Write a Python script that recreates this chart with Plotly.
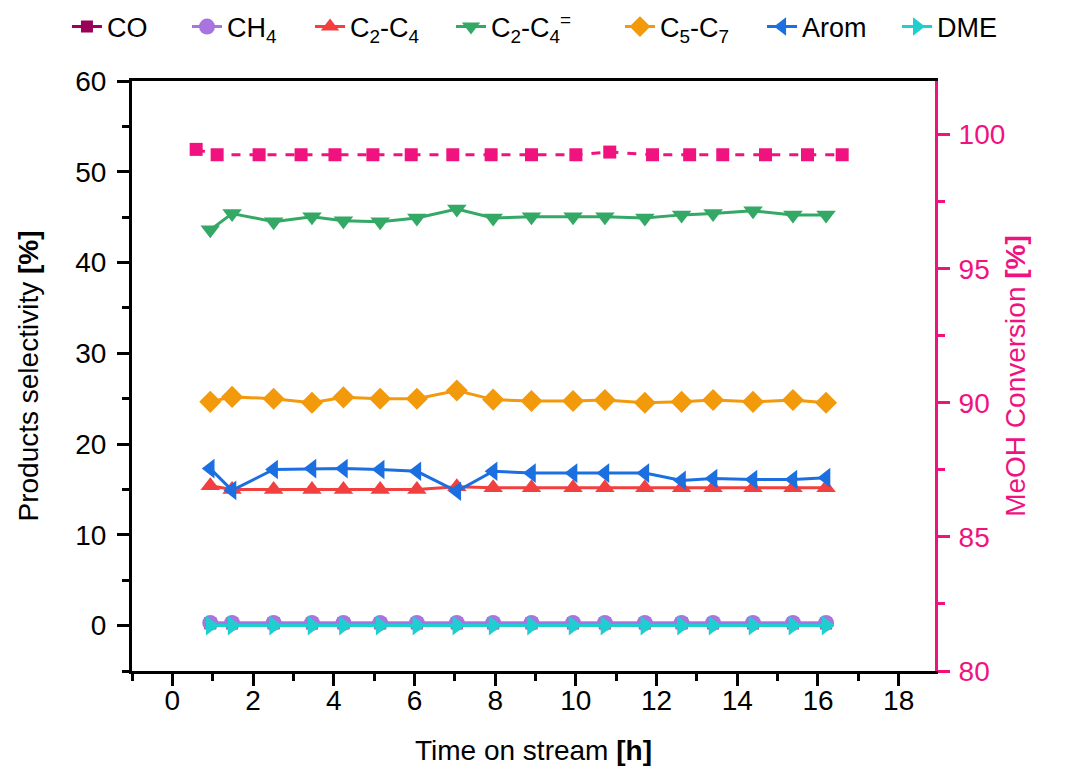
import plotly.graph_objects as go

# Time on stream [h]
t_conv = [0.59, 1.11, 2.15, 3.19, 4.03, 4.97, 5.92, 6.95, 7.9, 8.9, 10.0, 10.84, 11.9, 12.82, 13.64, 14.7, 15.74, 16.6]
t_sel = [0.94, 1.48, 2.51, 3.46, 4.24, 5.15, 6.06, 7.05, 7.95, 8.9, 9.93, 10.72, 11.71, 12.62, 13.4, 14.39, 15.38, 16.2]

# MeOH conversion [%]
conversion = [99.45, 99.25, 99.25, 99.25, 99.25, 99.25, 99.25, 99.25, 99.25, 99.25, 99.25, 99.35, 99.25, 99.25, 99.25, 99.25, 99.25, 99.25]

# Product selectivities [%]
co = [0.25] * 18
ch4 = [0.3] * 18
c2c4 = [15.4, 15.0, 15.0, 15.0, 15.0, 15.0, 15.0, 15.3, 15.2, 15.2, 15.2, 15.2, 15.2, 15.2, 15.2, 15.2, 15.2, 15.2]
c2c4_ole = [43.6, 45.4, 44.5, 45.05, 44.6, 44.5, 44.9, 45.9, 44.9, 45.05, 45.05, 45.05, 44.9, 45.25, 45.4, 45.7, 45.25, 45.25]
c5c7 = [24.65, 25.2, 25.0, 24.55, 25.15, 25.0, 25.0, 25.9, 24.9, 24.75, 24.75, 24.85, 24.55, 24.65, 24.85, 24.65, 24.85, 24.55]
arom = [17.3, 14.9, 17.2, 17.3, 17.3, 17.2, 17.0, 14.8, 17.0, 16.8, 16.8, 16.8, 16.8, 16.0, 16.2, 16.1, 16.1, 16.3]
dme = [0.0] * 18

x_ticks = [0, 2, 4, 6, 8, 10, 12, 14, 16, 18]

FONT = "Arial, Liberation Sans, sans-serif"
PINK = "#F0137F"

series = [
    ("CO", co, "#9B0058", "square", 12),
    ("CH<sub>4</sub>", ch4, "#A874E0", "circle", 16),
    ("C<sub>2</sub>-C<sub>4</sub>", c2c4, "#F24040", "triangle-up", 17),
    ("C<sub>2</sub>-C<sub>4</sub><sup>=</sup>", c2c4_ole, "#34A865", "triangle-down", 17),
    ("C<sub>5</sub>-C<sub>7</sub>", c5c7, "#F29A0C", "diamond", 17),
    ("Arom", arom, "#1B6FE0", "triangle-left", 17),
    ("DME", dme, "#1ECFCF", "triangle-right", 17),
]
# legend entry positions (paper x of each entry)
legend_x = [-0.081, 0.0685, 0.2217, 0.3973, 0.6077, 0.7846, 0.9527]

fig = go.Figure()

fig.add_trace(go.Scatter(
    x=t_conv, y=conversion, yaxis="y2", mode="lines+markers",
    line=dict(color=PINK, width=3, dash="dash"),
    marker=dict(symbol="square", size=13, color=PINK),
    showlegend=False, name="MeOH Conversion",
))

legends = {}
for i, (name, vals, color, sym, msize) in enumerate(series):
    lg = "legend" if i == 0 else f"legend{i + 1}"
    fig.add_trace(go.Scatter(
        x=t_sel, y=vals, mode="lines+markers", name=name, legend=lg,
        line=dict(color=color, width=3),
        marker=dict(symbol=sym, size=msize, color=color),
    ))
    legends[lg] = dict(orientation="h", x=legend_x[i], xanchor="left",
                       y=1.0915, yanchor="middle", font=dict(size=27),
                       bgcolor="rgba(0,0,0,0)", borderwidth=0)

fig.update_layout(
    width=1050, height=758,
    margin=dict(l=124, r=123, t=73, b=95, autoexpand=False),
    plot_bgcolor="white", paper_bgcolor="white",
    font=dict(family=FONT, size=27, color="black"),
    xaxis=dict(
        range=[-1, 18.9], tickvals=x_ticks, ticks="outside", ticklen=12, tickwidth=3,
        tickcolor="black", showline=True, linecolor="black", linewidth=3, mirror=True,
        showgrid=False, zeroline=False, ticklabelstandoff=-10,
        minor=dict(dtick=1, ticks="outside", ticklen=7, tickwidth=3, tickcolor="black"),
        title=dict(text="Time on stream <b>[h]</b>", font=dict(size=28), standoff=30),
        tickfont=dict(size=28),
    ),
    yaxis=dict(
        range=[-5, 60], dtick=10, ticks="outside", ticklen=12, tickwidth=3,
        tickcolor="black", showline=True, linecolor="black", linewidth=3,
        showgrid=False, zeroline=False, ticklabelstandoff=5,
        minor=dict(dtick=5, ticks="outside", ticklen=7, tickwidth=3, tickcolor="black"),
        title=dict(text="Products selectivity <b>[%]</b>", font=dict(size=28), standoff=29),
        tickfont=dict(size=28),
    ),
    yaxis2=dict(
        range=[80, 102], tickvals=[80, 85, 90, 95, 100], overlaying="y", side="right",
        ticks="outside", ticklen=12, tickwidth=3, tickcolor=PINK,
        showline=True, linecolor=PINK, linewidth=3, showgrid=False, zeroline=False,
        ticklabelstandoff=3,
        minor=dict(dtick=2.5, ticks="outside", ticklen=7, tickwidth=3, tickcolor=PINK),
        tickfont=dict(size=28, color=PINK),
        title=dict(text="MeOH Conversion <b>[%]</b>", font=dict(size=28, color=PINK), standoff=2),
    ),
    **legends,
)

fig.write_html("out.html")
